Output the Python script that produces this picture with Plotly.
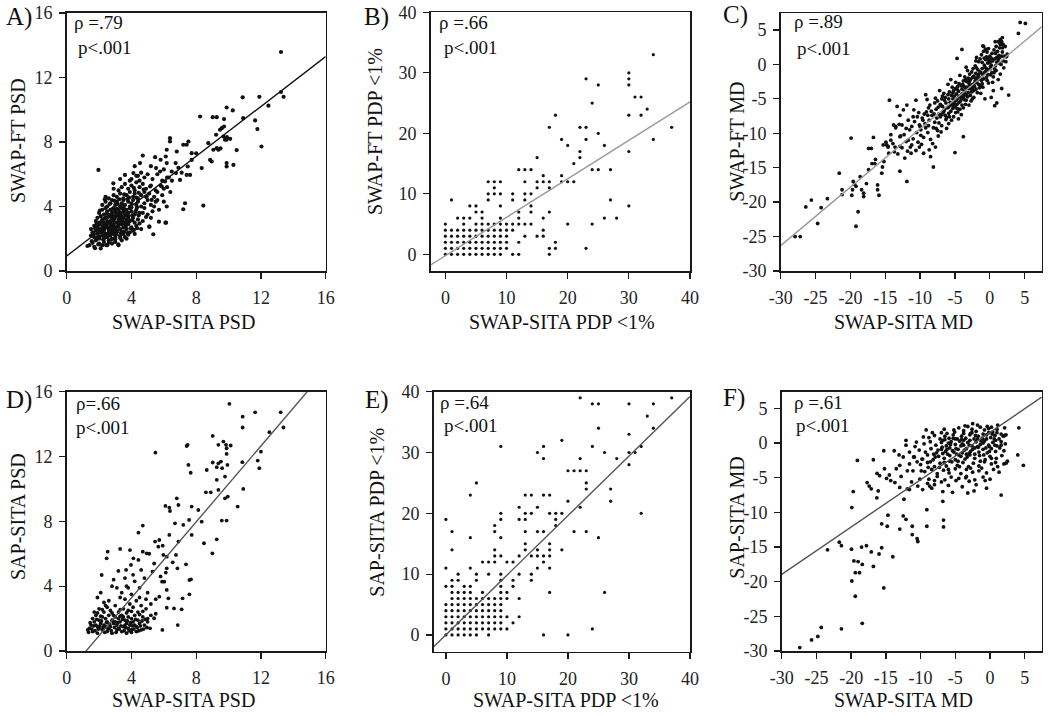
import plotly.graph_objects as go

W, H = 1050, 716
FONT = "Liberation Serif, Times New Roman, serif"

# ---------------- data ----------------
A_points = [
    (1.28,1.55),(1.75,1.41),(2.43,1.61),(3.19,1.66),(1.4,1.6),(1.7,1.5),(1.8,1.9),(2.0,1.7),(2.1,1.4),(2.3,1.8),
    (2.5,1.6),(2.6,1.9),(2.8,1.7),(3.0,1.8),(3.2,1.6),(3.4,1.9),(3.7,2.0),
    (1.5,2.2),(1.6,2.4),(1.7,2.1),(1.9,2.3),(2.0,2.0),(2.1,2.4),(2.2,2.2),(2.3,2.0),(2.4,2.3),(2.5,2.1),(2.6,2.4),
    (2.7,2.2),(2.8,2.0),(2.9,2.3),(3.0,2.1),(3.1,2.4),(3.3,2.2),(3.5,2.3),(3.6,2.1),(3.9,2.4),(4.2,2.3),
    (1.5,2.6),(1.7,2.8),(1.8,2.5),(1.9,2.7),(2.0,2.9),(2.1,2.6),(2.2,2.8),(2.3,2.5),(2.4,2.9),(2.5,2.7),(2.6,2.5),
    (2.7,2.8),(2.8,2.6),(2.9,2.9),(3.0,2.7),(3.1,2.5),(3.2,2.8),(3.3,2.6),(3.4,2.9),(3.5,2.7),(3.7,2.6),(3.8,2.9),
    (4.0,2.7),(4.3,2.8),(4.6,2.6),(5.1,2.75),
    (1.8,3.1),(1.9,3.3),(2.0,3.0),(2.1,3.4),(2.2,3.2),(2.3,3.0),(2.4,3.3),(2.5,3.1),(2.6,3.4),(2.7,3.0),(2.8,3.3),
    (2.9,3.1),(3.0,3.4),(3.1,3.0),(3.2,3.2),(3.3,3.4),(3.4,3.1),(3.5,3.3),(3.6,3.0),(3.7,3.2),(3.8,3.4),(3.9,3.1),
    (4.1,3.3),(4.2,3.0),(4.4,3.2),(4.7,3.1),(5.7,3.06),(6.1,3.0),
    (2.0,3.6),(2.2,3.8),(2.3,3.5),(2.4,3.9),(2.5,3.7),(2.6,3.5),(2.7,3.8),(2.8,3.6),(2.9,3.9),(3.0,3.7),(3.1,3.5),
    (3.2,3.8),(3.3,3.6),(3.4,3.9),(3.5,3.7),(3.6,3.5),(3.7,3.8),(3.8,3.6),(3.9,3.9),(4.0,3.7),(4.2,3.5),(4.3,3.8),
    (4.5,3.6),(4.8,3.9),(5.0,3.5),(5.3,3.7),
    (2.2,4.1),(2.4,4.3),(2.5,4.0),(2.7,4.2),(2.8,4.4),(3.0,4.1),(3.1,4.3),(3.3,4.0),(3.4,4.2),(3.5,4.4),(3.6,4.1),
    (3.8,4.3),(3.9,4.0),(4.0,4.2),(4.1,4.4),(4.3,4.1),(4.4,4.3),(4.6,4.0),(4.8,4.2),(5.0,4.4),(5.2,4.1),(5.5,4.3),
    (2.4,4.6),(2.6,4.5),(2.9,4.7),(3.1,4.6),(3.3,4.8),(3.5,4.5),(3.7,4.7),(3.9,4.9),(4.1,4.6),(4.2,4.8),(4.4,4.5),
    (4.6,4.7),(4.8,4.9),(4.9,4.6),(5.1,4.8),(5.4,4.6),(5.6,4.9),(5.9,4.7),(4.94,4.62),(5.25,4.41),
    (2.9,5.1),(3.2,5.0),(3.4,5.2),(3.6,5.4),(3.8,5.1),(4.0,5.3),(4.2,5.0),(4.3,5.5),(4.5,5.2),(4.7,5.4),(4.9,5.1),
    (5.2,5.3),(5.5,5.0),(5.8,5.3),(6.0,5.1),(2.88,5.44),(5.15,5.24),(5.87,5.24),
    (3.6,5.96),(4.0,5.7),(4.12,6.07),(4.3,5.9),(4.5,5.6),(4.6,6.1),(4.8,5.8),(5.0,6.0),(5.3,5.7),(5.6,6.0),
    (6.07,5.55),(6.2,5.8),(1.96,6.27),(4.2,6.5),(5.2,6.5),
    (1.85,2.05),(2.15,2.55),(2.45,2.75),(2.75,3.15),(3.05,3.55),(3.35,3.45),(2.65,2.65),(2.35,3.25),(3.25,2.95),
    (3.55,3.85),(3.15,4.15),(2.85,3.85),(3.45,4.05),(3.75,4.45),(2.55,3.35),(1.95,2.85),(2.25,2.35),(3.65,2.75),
    (4.05,3.45),(4.35,3.95),
    (1.55,1.85),(1.65,2.3),(1.75,2.65),(1.85,2.95),(1.95,1.65),(2.05,2.15),(2.15,3.05),(2.25,1.95),(2.35,2.65),
    (2.45,3.55),(2.55,2.25),(2.65,3.05),(2.75,1.95),(2.85,2.45),(2.95,3.25),(3.05,2.25),(3.15,2.75),(3.25,3.65),
    (3.35,2.35),(3.45,3.15),(3.55,2.45),(3.65,3.45),(3.75,2.35),(3.85,3.05),(3.95,2.65),(4.05,3.15),(4.15,2.55),
    (4.25,3.65),(4.35,2.65),(4.45,3.45),(1.6,1.75),(1.9,2.05),(2.2,2.65),(2.5,2.95),(2.8,3.45),(3.1,3.85),
    (3.4,2.45),(3.7,2.95),(4.0,3.95),(4.3,4.55),(2.05,3.75),(2.35,4.45),(2.65,4.15),(2.95,4.35),(3.25,4.45),
    (3.55,4.75),(3.85,4.55),(4.15,5.15),(4.45,4.85),(4.75,5.05),(2.2,1.6),(2.6,1.75),(3.0,1.95),(3.3,2.05),
    (3.8,2.25),(4.1,2.5),(4.5,2.95),(4.9,3.35),(5.2,3.3),(4.7,3.6),(2.0,2.5),(2.4,2.15),(2.7,2.35),(3.0,2.55),
    (3.2,3.05),(3.5,2.95),(3.8,3.25),(2.9,2.75),(3.3,3.25),(3.6,3.65),(5.6,4.4),(5.9,5.6),(6.2,5.2),(6.4,4.9),
    (5.4,4.0),(5.7,3.8),(6.0,4.3),(4.4,5.9),(3.9,5.6),(3.3,5.7),
    (4.53,6.69),(4.7,7.16),(5.46,7.06),(5.52,6.38),(5.77,6.17),(6.18,6.69),(6.12,7.1),(6.49,6.17),(6.73,6.69),
    (6.38,8.24),(6.38,8.03),(6.18,7.52),(6.8,7.41),(6.75,6.07),(7.0,5.65),(7.2,7.83),(7.41,7.83),(7.52,8.03),
    (7.72,7.31),(7.72,6.89),(7.48,6.48),(7.62,5.96),(7.41,5.96),(7.31,4.2),(7.2,3.83),(8.24,9.58),(8.75,7.93),
    (9.06,7.52),(9.27,7.62),(9.37,7.52),(8.86,6.89),(8.96,6.79),(8.34,6.38),(8.44,4.06),(9.72,9.42),(9.27,9.54),
    (9.02,9.54),(9.47,8.76),(9.58,8.86),(9.72,8.96),(9.68,8.34),(9.78,8.14),(9.88,8.14),(9.23,8.45),(10.9,9.48),
    (10.26,9.96),(9.88,10.14),(10.5,7.5),(10.3,6.58),(9.88,6.69),(9.88,6.48),(11.64,9.34),(11.78,8.8),(12.03,7.72),
    (12.46,10.25),(11.9,10.8),(10.87,10.77),(13.24,11.1),(13.4,10.8),(13.24,13.58),(6.18,4.0),(6.14,3.0),
    (5.11,2.75),(5.35,2.28),(6.0,6.3),(6.5,5.6),(6.9,6.4),(5.8,6.9),(6.3,5.8),(7.1,6.1),(8.0,7.3),(9.5,7.6),
    (10.1,8.2),(9.9,8.3),
]

# panel B: integer-valued percentages, listed per SWAP-SITA value
B_columns = [
    (0, [0,1,2,3,4,5]), (1, [0,1,2,3,4,9]), (2, [0,1,2,3,4,6]), (3, [0,1,2,3,4,5,6]),
    (4, [0,1,2,3,4,6,8]), (5, [0,1,2,3,4,5,7,8]), (6, [0,1,2,3,4,5,6,7]),
    (7, [0,1,2,3,4,5,9,10,12]), (8, [0,1,2,3,4,5,10,11,12]), (9, [0,1,2,3,4,5,6,8,10,12]),
    (10, [1,2,3,4,5]), (11, [0,4,5,9,10]), (12, [0,2,5,6,7,14]), (13, [3,5,9,10,12,14]),
    (14, [5,7,8,10,14]), (15, [3,11,12,16]), (16, [3,4,6,12,13]), (17, [0,1,7,11,12,21]),
    (18, [1,2,23]), (19, [12,13,19]), (20, [5,12,18]), (21, [12,15]), (22, [16,17,21]),
    (23, [1,19,21,29]), (24, [5,14,25]), (25, [14,20,28]), (26, [6,18]), (27, [9,14]),
    (28, [6]), (30, [8,17,23,28,29,30]), (31, [26]), (32, [23,26]), (33, [24]), (34, [19,33]), (37, [21]),
]

C_points = [
    (-27.94,-25.0),(-27.2,-25.0),(-26.4,-20.7),(-25.6,-19.7),(-24.7,-23.1),(-24.2,-20.8),(-23.3,-19.5),
    (-21.6,-15.8),(-21.2,-18.2),(-21.2,-18.9),(-19.9,-10.7),(-19.6,-17.0),(-19.4,-17.4),(-19.7,-18.2),
    (-19.8,-19.0),(-19.2,-17.7),(-18.9,-21.4),(-19.2,-23.5),(-18.6,-16.3),(-18.4,-18.2),(-18.1,-18.7),
    (-18.1,-19.2),(-17.7,-17.3),(-17.4,-12.2),(-17.0,-12.2),(-16.9,-14.4),(-16.7,-10.6),(-17.4,-15.3),
    (-16.5,-14.4),(-16.4,-13.8),(-16.1,-18.2),(-15.9,-19.0),(-16.1,-17.5),(-15.5,-15.8),(-15.4,-14.9),
    (-15.3,-11.7),(-14.8,-11.7),(-14.6,-12.0),(-14.4,-5.2),(-14.2,-11.0),(-13.8,-8.8),(-13.5,-9.0),
    (-13.7,-12.7),(-13.3,-6.1),(-12.9,-7.4),(-12.9,-10.5),(-12.9,-11.9),(-12.9,-15.5),(-12.4,-6.6),
    (-11.9,-5.9),(-11.7,-8.1),(-11.7,-11.0),(-11.9,-17.0),(-11.4,-12.0),(-11.3,-12.9),(-11.2,-9.0),
    (-10.9,-6.6),(-10.6,-5.2),(-10.2,-7.0),(-10.0,-9.0),(-10.1,-12.0),(-9.5,-12.9),(-9.2,-4.4),
    (-8.7,-12.4),(-8.5,-13.4),(-8.1,-14.9),(-7.8,-12.0),(-3.8,-10.5),(-5.0,-12.8),(-4.7,0.87),(-4.0,2.18),
    (-0.9,2.6),(0.77,3.3),(1.7,3.3),(2.2,2.6),(2.35,1.1),(2.4,1.2),(1.7,-3.5),(2.7,-4.45),(4.1,4.5),
    (4.35,6.1),(5.1,5.95),(1.2,3.3),(1.5,3.6),(1.8,3.9),(1.5,3.0),(1.9,2.9),
    (-12.0,-11.2),(-11.5,-9.5),(-11.0,-10.8),(-10.8,-8.3),(-10.5,-9.9),(-10.3,-11.3),(-10.1,-8.8),
    (-12.3,-10.2),(-11.8,-12.6),(-11.0,-7.6),(-10.6,-12.5),(-12.6,-8.8),
    (-9.9,-9.5),(-9.7,-7.8),(-9.5,-10.6),(-9.3,-8.6),(-9.1,-6.9),(-8.9,-9.9),(-8.7,-8.1),(-8.5,-10.9),
    (-8.3,-7.4),(-8.1,-9.2),(-9.8,-11.6),(-9.0,-5.1),(-8.6,-5.9),(-8.2,-11.5),(-9.4,-7.2),(-8.8,-6.3),
    (-7.9,-8.4),(-7.7,-6.5),(-7.5,-9.6),(-7.3,-7.2),(-7.1,-5.8),(-6.9,-8.9),(-6.7,-7.0),(-6.5,-5.2),
    (-6.3,-8.0),(-6.1,-6.3),(-7.8,-4.9),(-7.4,-10.4),(-7.0,-9.8),(-6.6,-4.2),(-6.2,-9.3),(-7.6,-7.8),
    (-6.8,-6.1),(-6.4,-7.4),(-7.2,-3.8),(-6.0,-2.9),(-7.9,-5.6),(-6.9,-5.0),
    (-5.9,-7.1),(-5.7,-5.5),(-5.5,-8.1),(-5.3,-6.4),(-5.1,-4.6),(-4.9,-7.0),(-4.7,-5.8),(-4.5,-3.9),
    (-4.3,-6.5),(-4.1,-4.8),(-5.8,-4.0),(-5.6,-6.8),(-5.4,-3.3),(-5.2,-7.6),(-5.0,-6.1),(-4.8,-4.3),
    (-4.6,-6.9),(-4.4,-2.8),(-4.2,-5.3),(-4.0,-3.6),(-5.9,-8.6),(-5.3,-5.0),(-4.9,-2.6),(-4.5,-7.9),
    (-5.6,-2.2),(-4.3,-1.6),(-5.1,-5.7),(-4.7,-6.4),
    (-3.9,-4.9),(-3.7,-3.2),(-3.5,-5.8),(-3.3,-2.5),(-3.1,-4.1),(-2.9,-3.0),(-2.7,-5.3),(-2.5,-1.9),
    (-2.3,-3.8),(-2.1,-2.4),(-3.8,-6.3),(-3.6,-1.8),(-3.4,-4.4),(-3.2,-0.9),(-3.0,-5.9),(-2.8,-2.2),
    (-2.6,-4.0),(-2.4,-0.6),(-2.2,-3.2),(-2.0,-1.3),(-3.9,-2.9),(-3.1,-3.5),(-2.5,-5.0),(-2.9,-1.4),
    (-3.5,-2.2),(-2.3,-4.8),(-3.7,-4.6),(-2.1,-0.2),
    (-1.9,-2.6),(-1.7,-0.8),(-1.5,-3.4),(-1.3,-1.2),(-1.1,0.3),(-0.9,-2.1),(-0.7,-0.4),(-0.5,1.1),
    (-0.3,-1.5),(-0.1,0.5),(-1.8,-4.1),(-1.6,0.4),(-1.4,-2.0),(-1.2,1.4),(-1.0,-3.3),(-0.8,0.9),
    (-0.6,-1.0),(-0.4,1.8),(-0.2,-2.7),(0.0,1.2),(-1.9,1.0),(-1.3,-4.2),(-0.7,-5.0),(-0.3,0.2),
    (-1.1,-0.6),(-0.5,-1.9),(-1.7,-1.7),(-0.9,1.9),(0.0,-0.7),(-0.6,2.2),
    (0.1,-0.3),(0.3,1.6),(0.5,-1.8),(0.7,0.8),(0.9,-0.9),(1.1,1.9),(1.3,0.2),(1.5,-1.4),(1.7,1.2),
    (1.9,0.5),(0.2,0.9),(0.4,-2.6),(0.6,2.1),(0.8,-0.2),(1.0,1.0),(1.2,-2.2),(1.4,2.4),(1.6,0.0),
    (1.8,1.8),(0.5,-3.8),(1.0,-5.6),(0.3,-1.2),(1.5,2.9),(2.1,1.2),(2.3,0.4),(2.5,1.5),(0.7,-6.0),(0.2,-4.8),
    (-14.9,-11.3),(-14.5,-12.9),(-13.9,-11.5),(-13.5,-9.2),(-13.2,-13.0),(-12.8,-10.4),(-12.6,-12.1),
    (-14.2,-10.2),(-13.0,-8.7),(-12.2,-13.6),(-12.0,-9.3),(-15.2,-14.1),(-13.6,-12.0),(-14.6,-11.9),
    (-5.5,-4.5),(-5.2,-3.8),(-4.8,-5.2),(-4.4,-4.6),(-4.0,-5.9),(-3.6,-3.9),(-3.3,-3.3),(-3.0,-2.7),
    (-2.7,-3.6),(-2.4,-2.9),(-2.0,-2.0),(-1.6,-1.5),(-1.2,-2.3),(-0.8,-1.2),(-0.4,-0.8),(-6.3,-5.6),
    (-6.6,-6.8),(-7.0,-6.0),(-7.3,-8.5),(-5.9,-6.2),(-4.6,-3.2),(-3.8,-2.4),(-2.6,-1.1),(-1.4,0.8),
    (-0.2,2.3),(0.9,2.6),(-1.0,2.7),(-2.0,0.5),(-3.4,-0.4),(-4.1,-7.3),
    (-7.5,-5.3),(-7.1,-7.6),(-6.8,-4.6),(-6.5,-6.5),(-6.2,-7.7),(-5.9,-5.0),(-5.6,-5.9),(-5.3,-4.1),
    (-5.0,-5.3),(-4.7,-3.6),(-4.4,-5.5),(-4.1,-3.1),(-3.8,-4.2),(-3.5,-3.4),(-3.2,-4.7),(-2.9,-2.4),
    (-2.6,-3.0),(-2.3,-1.7),(-2.0,-3.6),(-1.7,-2.2),(-1.4,-1.1),(-1.1,-2.8),(-0.8,-0.1),(-0.5,-0.6),
    (-0.2,0.8),(0.1,-1.5),(0.4,0.5),(0.7,-0.7),(1.0,0.3),(1.3,1.3),(-7.4,-6.2),(-6.9,-7.3),(-6.4,-4.8),
    (-5.8,-7.6),(-5.2,-6.0),(-4.6,-4.9),(-4.0,-4.3),(-3.4,-5.2),(-2.8,-4.5),(-2.2,-2.7),(-1.6,-2.9),
    (-1.0,-1.5),(-0.4,-2.3),(0.2,-0.1),(0.8,1.6),(1.4,1.0),(-8.4,-6.8),(-8.8,-8.9),(-9.2,-9.2),(-9.6,-8.1),
    (-6.0,-4.4),(-5.4,-5.6),(-4.9,-3.5),(-3.7,-5.1),(-3.1,-2.0),(-2.5,-3.4),(-1.9,-0.5),(-1.3,-3.1),
    (-0.6,0.7),(0.0,0.3),(0.6,-1.2),(1.2,0.7),(1.8,2.4),(2.0,-0.5),(-8.0,-7.2),(-7.7,-9.3),(-10.4,-7.6),
    (-11.2,-11.7),(-9.9,-10.3),(-8.9,-7.4),
]

D_points = [
    (10.05,15.25),(10.87,14.46),(11.64,14.73),(13.22,14.73),(13.39,13.79),(12.52,13.5),(10.87,13.79),
    (9.02,13.27),(9.37,12.72),(9.68,12.92),(9.84,12.72),(10.13,12.68),(9.88,12.51),(9.88,12.16),
    (9.53,11.69),(9.37,11.58),(9.02,11.63),(9.27,11.34),(9.6,11.28),(8.65,11.17),(9.93,11.48),
    (10.85,11.65),(11.8,11.75),(12.0,12.3),(11.9,11.28),(7.41,12.65),(7.47,12.72),(5.48,12.24),
    (7.52,11.48),(7.66,11.0),(9.27,10.56),(9.37,9.94),(9.78,10.76),(8.6,9.79),(8.9,9.79),(9.95,9.53),
    (9.78,9.42),(10.91,10.0),(10.56,8.91),(9.58,8.05),(9.88,8.05),(9.27,6.89),(9.0,6.03),(8.48,6.65),
    (8.13,8.7),(8.34,7.98),(7.72,8.91),(7.72,7.16),(7.2,7.78),(7.56,8.09),(6.8,9.42),(6.9,9.01),
    (6.34,8.85),(6.38,8.64),(6.1,8.95),(6.69,7.88),(6.34,7.16),(6.9,6.75),(5.93,6.5),(5.72,6.85),
    (5.46,6.75),(5.66,6.44),(5.97,5.93),(6.18,5.82),(6.75,5.93),(6.55,5.47),(6.84,5.1),(7.37,5.35),
    (6.18,5.1),(6.12,4.84),(5.89,4.28),(6.03,4.28),(5.72,3.35),(6.18,3.77),(6.28,3.25),(6.18,2.67),
    (6.63,2.63),(7.1,2.57),(7.16,3.25),(7.58,4.38),(7.68,4.42),(7.58,3.5),(6.86,1.6),(5.91,1.3),
    (5.4,2.02),(5.5,2.3),(5.2,2.2),(5.15,1.4),
    (1.3,1.3),(1.6,1.2),(1.9,1.1),(2.2,1.3),(2.5,1.2),(2.8,1.1),(3.1,1.3),(3.4,1.2),(3.7,1.1),(4.0,1.3),
    (4.3,1.2),(1.4,1.4),(2.0,1.4),(2.6,1.4),(3.2,1.4),(3.8,1.4),(4.6,1.3),
    (1.5,1.6),(1.7,1.8),(1.9,1.5),(2.1,1.7),(2.3,1.6),(2.5,1.8),(2.7,1.5),(2.9,1.7),(3.1,1.6),(3.3,1.8),
    (3.5,1.5),(3.7,1.7),(3.9,1.6),(4.1,1.8),(4.3,1.5),(4.5,1.7),(4.8,1.6),(5.0,1.8),(1.8,1.6),(2.4,1.5),
    (3.0,1.8),(3.6,1.6),(4.2,1.6),
    (1.6,2.0),(1.8,2.2),(2.0,1.9),(2.2,2.1),(2.4,2.0),(2.6,2.2),(2.8,1.9),(3.0,2.1),(3.2,2.0),(3.4,2.2),
    (3.6,1.9),(3.8,2.1),(4.0,2.0),(4.2,2.2),(4.4,1.9),(4.7,2.1),(5.0,2.0),(2.9,2.2),(3.5,2.1),
    (1.7,2.4),(2.0,2.6),(2.3,2.4),(2.5,2.7),(2.7,2.5),(3.0,2.8),(3.2,2.4),(3.5,2.6),(3.8,2.5),(4.1,2.7),
    (4.4,2.4),(4.6,2.8),(4.9,2.6),(1.9,3.3),(2.6,3.1),(2.3,3.0),(4.3,3.1),(3.6,3.2),
    (1.35,1.15),(1.45,1.75),(1.55,1.35),(1.65,1.55),(1.75,1.25),(1.85,1.95),(1.95,1.35),(2.05,1.55),
    (2.15,1.85),(2.25,1.45),(2.35,1.15),(2.45,1.75),(2.55,1.35),(2.65,1.65),(2.75,1.25),(2.85,1.85),
    (2.95,1.45),(3.05,1.15),(3.15,1.75),(3.25,1.35),(3.35,1.55),(3.45,1.95),(3.55,1.25),(3.65,1.45),
    (3.75,1.85),(3.85,1.25),(3.95,1.75),(4.05,1.55),(4.15,1.35),(4.25,1.95),(4.35,1.45),(4.45,1.25),
    (4.55,1.55),(4.65,1.85),(4.75,1.35),(4.85,1.95),(4.95,1.45),(1.9,2.35),(2.2,2.55),(2.8,2.35),
    (3.3,2.55),(3.7,2.35),(4.0,2.45),(4.5,2.25),(2.4,2.8),(3.9,2.9),(4.7,2.45),(2.1,2.15),(3.3,2.15),(4.0,1.15),
    (2.16,4.69),(2.47,5.72),(2.53,6.13),(3.3,6.3),(3.19,4.94),(3.67,5.0),(3.91,6.23),(3.97,5.31),
    (4.12,5.72),(4.43,5.62),(4.7,6.13),(4.94,6.03),(4.43,7.3),(4.7,7.74),(2.9,4.4),(3.1,3.9),(3.4,3.6),
    (3.7,4.0),(4.0,3.5),(4.2,4.3),(4.5,3.9),(4.8,4.5),(5.0,3.6),(5.3,4.9),(5.5,3.2),(5.2,2.9),(2.8,4.0),
    (4.5,3.3),(3.3,3.3),(4.6,5.0),(3.8,3.9),(2.1,3.6),(5.8,4.6),(5.4,5.4),(5.1,6.0),(3.6,4.5),(4.1,4.7),
    (4.9,3.2),
]

E_columns = [
    (0, [0,1,2,3,4,5,8,11,19]), (1, [0,1,2,3,4,5,6,7,8,9,14,17]), (2, [0,1,2,3,4,5,6,7,9,10]),
    (3, [0,1,2,3,4,5,6,7,8]), (4, [0,1,2,3,4,5,6,7,8,11,16,23]), (5, [0,1,2,3,4,5,6,9,10,25]),
    (6, [1,2,3,4,5,6,7,12]), (7, [0,1,2,3,4,5,6,10,12]), (8, [1,2,3,4,5,6,12,13,14,17,18]),
    (9, [1,2,3,4,5,6,7,8,9,10,13,16,19,20,31]), (10, [1,3,6,7,12]), (11, [2,8,9,12]),
    (12, [3,6,10,13,19,21]), (13, [14,15,17,19,20,23]), (14, [9,10,13,20,23]),
    (15, [11,13,14,17,21,30]), (16, [0,12,13,17,23,29,31]), (17, [7,11,13,14,15,20,23]),
    (18, [18,19,20]), (19, [14,20,32]), (20, [0,22,27]), (21, [17,27]), (22, [21,27,29,39]),
    (23, [17,24,25,27]), (24, [1,31,38]), (25, [16,34,38]), (26, [7,30]), (27, [22,24]),
    (28, [29]), (30, [28,30,33,38]), (31, [30]), (32, [20,31]), (33, [36]), (34, [34,38]), (37, [39]),
]

F_points = [
    (-27.4,-29.5),(-25.7,-28.4),(-24.8,-27.9),(-24.3,-26.6),(-21.4,-26.8),(-18.4,-26.0),
    (-23.4,-15.4),(-21.7,-14.3),(-21.4,-14.8),(-19.95,-15.3),(-19.9,-19.9),(-19.6,-17.0),(-19.4,-18.7),
    (-19.4,-22.1),(-19.0,-17.1),(-18.8,-18.7),(-18.5,-15.0),(-18.4,-17.5),(-17.8,-14.8),(-17.1,-15.7),
    (-16.8,-17.8),(-15.98,-16.0),(-15.6,-15.1),(-15.3,-20.9),(-14.0,-16.4),(-15.6,-11.65),(-14.8,-12.0),
    (-14.7,-10.4),(-12.5,-10.5),(-12.1,-11.0),(-13.0,-12.4),(-11.2,-12.0),(-11.2,-13.2),(-10.5,-13.8),
    (-10.4,-14.2),(-9.1,-9.6),(-9.1,-12.0),(-6.7,-11.1),(-6.7,-12.1),(-6.8,-8.4),(1.6,-7.5),
    (-19.9,-9.3),(-19.7,-7.0),(-19.1,-2.5),(-16.8,-2.4),(-16.27,-4.37),(-17.7,-5.7),(-17.4,-6.2),
    (-17.1,-6.6),(-16.3,-7.9),(-16.1,-6.9),(-15.9,-4.7),(-15.3,-1.1),(-15.2,-3.7),(-14.9,-5.1),
    (-14.5,-4.6),(-14.3,-5.4),(-13.8,-1.1),(-13.1,-1.7),(-13.0,-3.2),(-12.5,-2.0),(-12.1,0.4),
    (-12.1,-0.3),(-11.9,-4.0),(-11.6,-3.0),(-11.3,-5.6),(-11.1,-4.0),(-10.6,0.15),(-10.4,-6.2),
    (-10.1,-5.2),(-9.7,-2.3),(-9.2,1.9),(-8.9,-3.5),(-8.7,-6.2),(-8.0,-5.4),(-9.7,-6.7),(-11.6,-6.7),
    (-13.0,-6.4),(-12.4,-8.1),(-13.5,-3.7),(-12.8,-4.8),(-10.9,-2.0),(-9.9,-4.0),(-9.0,-5.8),(-8.4,-6.5),
    (-11.9,-6.6),(-13.7,-5.7),
    (4.0,-1.7),(4.8,-3.2),(4.15,2.2),(2.3,-2.9),(2.5,-2.6),(2.1,1.1),(2.1,2.2),(1.1,2.6),(-2.5,2.8),
    (-2.3,-6.9),(-4.9,-5.4),(-5.4,-7.1),(-3.5,-5.0),(-0.7,-5.4),
    (-4.5,2.2),(-3.8,1.8),(-3.2,2.4),(-2.6,2.0),(-2.0,1.7),(-1.4,2.3),(-0.8,1.9),(-0.2,2.1),(0.4,1.6),
    (1.0,2.0),(-5.1,1.6),(-6.2,1.4),(-7.0,1.5),(-1.0,1.3),(0.2,2.3),(-2.8,1.4),
    (-8.8,0.8),(-8.0,1.1),(-7.2,0.6),(-6.5,1.0),(-5.9,0.7),(-5.3,1.2),(-4.7,0.6),(-4.1,1.0),(-3.5,0.7),
    (-2.9,1.2),(-2.3,0.6),(-1.7,1.0),(-1.1,0.7),(-0.5,1.2),(0.1,0.8),(0.7,1.1),(1.3,0.6),(1.9,1.0),
    (-6.8,0.4),(-3.8,0.4),(-0.8,0.4),(1.6,1.3),(2.3,1.2),
    (-9.5,-0.1),(-8.6,0.2),(-7.8,-0.3),(-7.0,0.1),(-6.3,-0.4),(-5.6,0.2),(-5.0,-0.2),(-4.4,0.3),
    (-3.8,-0.3),(-3.2,0.1),(-2.6,-0.4),(-2.0,0.2),(-1.4,-0.2),(-0.8,0.3),(-0.2,-0.3),(0.4,0.1),
    (1.0,-0.4),(1.6,0.2),(2.2,-0.1),(-6.0,0.0),(-4.0,-0.1),(-1.8,-0.5),(0.8,0.4),
    (-10.2,-1.0),(-9.3,-1.3),(-8.5,-0.8),(-7.7,-1.4),(-7.0,-0.9),(-6.4,-1.2),(-5.8,-0.7),(-5.2,-1.3),
    (-4.6,-0.9),(-4.0,-1.4),(-3.4,-0.8),(-2.8,-1.2),(-2.2,-0.7),(-1.6,-1.3),(-1.0,-0.9),(-0.4,-1.4),
    (0.2,-0.8),(0.8,-1.2),(1.4,-0.7),(2.0,-1.1),(-6.8,-1.5),(-3.0,-1.5),(-0.1,-1.2),
    (-11.0,-2.0),(-9.8,-2.3),(-9.0,-1.7),(-8.2,-2.4),(-7.4,-1.9),(-6.6,-2.2),(-5.8,-1.8),(-5.0,-2.4),
    (-4.2,-1.9),(-3.6,-2.3),(-2.9,-1.7),(-2.2,-2.2),(-1.5,-1.8),(-0.7,-2.4),(0.0,-1.9),(0.9,-2.2),
    (1.7,-1.8),(-4.8,-1.6),(-7.9,-2.0),
    (-10.0,-3.1),(-9.0,-2.8),(-8.0,-3.4),(-7.2,-2.9),(-6.3,-3.3),(-5.5,-2.7),(-4.7,-3.2),(-3.9,-2.8),
    (-3.1,-3.4),(-2.4,-2.9),(-1.6,-3.3),(-0.8,-2.7),(0.2,-3.0),(1.1,-3.4),(2.0,-3.0),
    (-9.4,-4.1),(-8.4,-3.8),(-7.6,-4.4),(-6.7,-3.9),(-5.9,-4.3),(-5.0,-3.7),(-4.2,-4.4),(-3.4,-3.8),
    (-2.5,-4.2),(-1.6,-4.0),(-0.5,-4.3),(0.5,-3.8),(1.3,-4.2),
    (-8.8,-5.2),(-7.6,-4.8),(-6.5,-5.3),(-5.6,-4.9),(-4.5,-5.1),(-3.4,-4.8),(-2.2,-5.3),(-1.0,-4.9),
    (0.0,-5.2),(-7.0,-5.6),(-3.0,-5.5),
    (-8.0,-6.0),(-6.0,-6.1),(-4.0,-6.3),(-2.0,-6.0),(-0.5,-6.5),(-6.8,-7.0),(-3.2,-7.2),
    (-6.9,-0.6),(-6.5,0.5),(-6.1,-1.6),(-5.7,-0.2),(-5.3,0.7),(-4.9,-0.8),(-4.5,-1.7),(-4.1,0.5),
    (-3.7,-1.0),(-3.3,-2.0),(-2.9,0.4),(-2.5,-0.9),(-2.1,1.1),(-1.7,-0.6),(-1.3,0.3),(-0.9,-1.7),
    (-0.5,0.6),(-0.1,-0.5),(0.3,1.3),(0.7,-0.3),(-6.6,-2.8),(-6.2,-0.9),(-5.8,-2.6),(-5.4,-1.1),
    (-5.0,0.6),(-4.6,-2.6),(-4.2,-0.4),(-3.8,1.4),(-3.4,-1.6),(-3.0,-0.3),(-2.6,1.5),(-2.2,-1.6),
    (-1.8,0.6),(-1.4,-2.6),(-1.0,0.0),(-0.6,-0.7),(-0.2,1.5),(0.2,-2.2),(0.6,0.6),(1.0,1.5),
    (-7.5,-1.0),(-8.1,-1.6),(-8.6,-2.7),(-7.3,-3.5),(-6.0,-3.8),(-4.4,-3.4),(-2.8,-3.6),(-1.2,-3.6),
    (0.8,-2.8),(1.6,-0.3),(-5.2,1.9),(-3.6,2.5),(-1.8,2.6),(-0.4,2.4),(-6.6,2.0),(-8.3,1.5),
    (-9.6,0.9),(-10.8,-0.5),(-11.6,-1.3),(-10.5,-2.7),
]

# regression lines: (intercept, slope)
A_fit = (0.93, 0.773)
B_fit = (-0.23, 0.636)
C_fit = (-0.85, 0.849)
D_fit = (-1.40, 1.171)
E_fit = (0.04, 0.979)
F_fit = (1.55, 0.683)

# tick values / labels
PSD_ticks = [0, 4, 8, 12, 16]
PDP_ticks = [0, 10, 20, 30, 40]
MD_ticks = [-30, -25, -20, -15, -10, -5, 0, 5]
MD_ticktext = ["-30", "-25", "-20", "-15", "-10", "-5", "0", "5"]

panel_letters = ["A)", "B)", "C)", "D)", "E)", "F)"]
rho_texts = ["\u03c1 =.79", "\u03c1 =.66", "\u03c1 =.89", "\u03c1=.66", "\u03c1 =.64", "\u03c1 =.61"]
p_text = "p<.001"
x_titles = ["SWAP-SITA PSD", "SWAP-SITA PDP <1%", "SWAP-SITA MD",
            "SWAP-SITA PSD", "SWAP-SITA PDP <1%", "SWAP-SITA MD"]
y_titles = ["SWAP-FT PSD", "SWAP-FT PDP <1%", "SWAP-FT MD",
            "SAP-SITA PSD", "SAP-SITA PDP <1%", "SAP-SITA MD"]


def cols_to_points(cols):
    return [(x, y) for x, ys in cols for y in ys]


B_points = cols_to_points(B_columns)
E_points = cols_to_points(E_columns)

# ---------------- layout geometry (pixels) ----------------
panels = [
    dict(pts=A_points, fit=A_fit, line="#111111", box=(66.7, 325.7, 13, 271), xr=[0, 16], yr=[0, 16],
         xt=PSD_ticks, yt=PSD_ticks, xtt=None, ytt=None, ms=4.2),
    dict(pts=B_points, fit=B_fit, line="#9a9a9a", box=(430.7, 690, 12.3, 271), xr=[-2.4, 40], yr=[-2.75, 40],
         xt=PDP_ticks, yt=PDP_ticks, xtt=None, ytt=None, ms=3.2),
    dict(pts=C_points, fit=C_fit, line="#9a9a9a", box=(780.7, 1041.7, 13.3, 271), xr=[-30, 7.44], yr=[-30, 7.42],
         xt=MD_ticks, yt=MD_ticks, xtt=MD_ticktext, ytt=MD_ticktext, ms=3.8),
    dict(pts=D_points, fit=D_fit, line="#555555", box=(66.7, 325.7, 391.7, 651), xr=[0, 16], yr=[0, 16],
         xt=PSD_ticks, yt=PSD_ticks, xtt=None, ytt=None, ms=3.8),
    dict(pts=E_points, fit=E_fit, line="#555555", box=(433.7, 690, 391.7, 651.7), xr=[-2.0, 40], yr=[-2.75, 40],
         xt=PDP_ticks, yt=PDP_ticks, xtt=None, ytt=None, ms=3.2),
    dict(pts=F_points, fit=F_fit, line="#555555", box=(781.7, 1041.7, 391.7, 651), xr=[-30, 7.44], yr=[-30, 7.42],
         xt=MD_ticks, yt=MD_ticks, xtt=MD_ticktext, ytt=MD_ticktext, ms=3.8),
]

label_pos = [(19, 17), (376, 17), (735, 15), (19, 400), (377, 400), (734, 398)]
rho_pos = [(71.7, 23), (437, 23), (791.7, 21), (74, 403), (438.3, 402), (791.7, 402)]
p_pos = [(76, 47), (441.7, 47), (795, 48), (74, 427), (441.7, 426), (794, 426)]
xtitle_pos = [(183, 321.7), (562, 321.7), (903, 321.7), (183, 700), (566, 700), (903, 700)]
ytitle_pos = [(18, 141), (375, 132), (736.7, 142), (18, 517), (376.7, 512), (736.7, 518)]

fig = go.Figure()
annotations = []


def ann(text, x, y, size, xanchor="center", angle=0):
    return dict(text=text, x=x / W, y=1 - y / H, xref="paper", yref="paper", showarrow=False,
                font=dict(family=FONT, size=size, color="#111111"), xanchor=xanchor,
                yanchor="middle", textangle=angle)


layout_axes = {}
for i, p in enumerate(panels):
    n = "" if i == 0 else str(i + 1)
    xa, ya = "x" + n, "y" + n
    xs = [q[0] for q in p["pts"]]
    ys = [q[1] for q in p["pts"]]
    fig.add_trace(go.Scatter(x=xs, y=ys, mode="markers", xaxis=xa, yaxis=ya, showlegend=False,
                             hoverinfo="skip",
                             marker=dict(color="#111111", size=p["ms"], line=dict(width=0))))
    a, b = p["fit"]
    lx = list(p["xr"])
    ly = [a + b * v for v in lx]
    fig.add_trace(go.Scatter(x=lx, y=ly, mode="lines", xaxis=xa, yaxis=ya, showlegend=False,
                             hoverinfo="skip", line=dict(color=p["line"], width=1.4)))
    x0, x1, y0, y1 = p["box"]
    common = dict(showline=True, mirror=True, linecolor="#1a1a1a", linewidth=1.6, ticks="outside",
                  ticklen=6, tickwidth=1.3, tickcolor="#1a1a1a", showgrid=False, zeroline=False,
                  tickfont=dict(family=FONT, size=18, color="#222222"), fixedrange=True,
                  automargin=False)
    xaxis = dict(common, domain=[x0 / W, x1 / W], range=p["xr"], anchor=ya, tickvals=p["xt"],
                 ticklabelstandoff=4)
    yaxis = dict(common, domain=[1 - y1 / H, 1 - y0 / H], range=p["yr"], anchor=xa, tickvals=p["yt"],
                 ticklabelstandoff=3)
    if p["xtt"]:
        xaxis["ticktext"] = p["xtt"]
    if p["ytt"]:
        yaxis["ticktext"] = p["ytt"]
    layout_axes["xaxis" + n] = xaxis
    layout_axes["yaxis" + n] = yaxis

    annotations.append(ann(panel_letters[i], *label_pos[i], 25))
    annotations.append(ann(rho_texts[i], *rho_pos[i], 19, xanchor="left"))
    annotations.append(ann(p_text, *p_pos[i], 19, xanchor="left"))
    annotations.append(ann(x_titles[i], *xtitle_pos[i], 20))
    annotations.append(ann(y_titles[i], *ytitle_pos[i], 20, angle=-90))

fig.update_layout(width=W, height=H, autosize=False,
                  margin=dict(l=0, r=0, t=0, b=0, pad=0, autoexpand=False),
                  paper_bgcolor="white", plot_bgcolor="white", annotations=annotations,
                  font=dict(family=FONT), hovermode=False, **layout_axes)

# remove the default page margin so the 1050x716 figure fills the window exactly
fig.write_html("out.html", config={"displayModeBar": False, "staticPlot": True},
               post_script="document.body.style.margin='0';document.body.style.overflow='hidden';")
